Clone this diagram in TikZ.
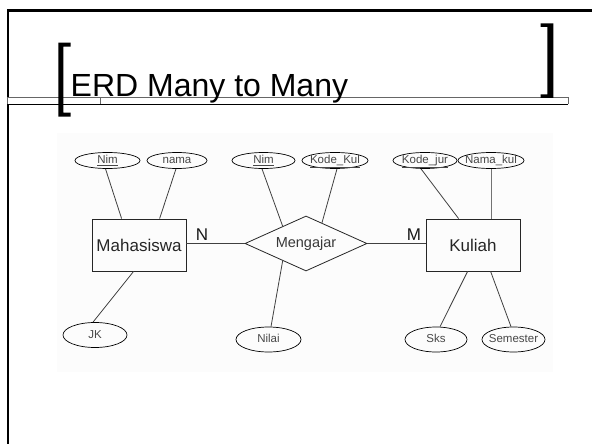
\documentclass[tikz,border=0pt]{standalone}
\usepackage{fontspec}
\setmainfont{Liberation Sans}
\usetikzlibrary{shapes.geometric,calc}
% text of an attribute: zero width so the ellipse keeps its set size
\newcommand{\attrtext}[1]{\makebox[0pt]{#1}}

\begin{document}
\begin{tikzpicture}[x=1pt,y=-1pt,
  entity/.style={draw=black!85,line width=0.8pt,rectangle,minimum width=94pt,
    minimum height=52pt,inner sep=0pt,font=\fontsize{17}{17}\selectfont,text=black!85},
  rel/.style={draw=black!85,line width=0.8pt,diamond,minimum width=122pt,
    minimum height=55pt,inner sep=0pt,aspect=2.2,
    font=\fontsize{14.5}{14.5}\selectfont,text=black!78},
  attr/.style={draw=black,line width=0.7pt,ellipse,inner sep=0pt,minimum height=16pt,
    text height=8pt,text depth=2pt,font=\fontsize{11.5}{11.5}\selectfont,text=black!72},
  attrlow/.style={attr,minimum height=25pt},
  link/.style={draw=black!75,line width=0.8pt},
  card/.style={font=\fontsize{17}{17}\selectfont,inner sep=0pt,anchor=base,text=black!90},
  bracket/.style={fill=black,draw=none},
]
\useasboundingbox (0,0) rectangle (592,444);

% slide frame: left and top edges
\draw[line width=2.6pt] (8,444) -- (8,10.7) -- (592,10.7);

% faint backdrop of the pasted diagram
\fill[black!1.2] (57,133) rectangle (553,372);

% title bar with its divider
\fill[white] (7,97.3) rectangle (568,104);
\draw[black!60,line width=0.8pt] (7,104) -- (7,97.3) -- (568,97.3) -- (568,104);
\draw[black,line width=0.8pt] (7,104) -- (568,104);
\draw[black!60,line width=0.8pt] (100,97.3) -- (100,104);

% title brackets
\fill[bracket] (58.3,42.7) -- (70.7,42.7) -- (70.7,46.7) -- (63.3,46.7) -- (63.3,112.7)
  -- (70.7,112.7) -- (70.7,116.7) -- (58.3,116.7) -- cycle;
\fill[bracket] (540.7,23.3) -- (553.3,23.3) -- (553.3,98) -- (540.7,98) -- (540.7,94.3)
  -- (547.3,94.3) -- (547.3,27) -- (540.7,27) -- cycle;

% title
\node[anchor=base west,inner sep=0pt,font=\fontsize{32}{32}\selectfont] (title)
  at (70.5,96) {ERD Many to Many};

% entities and relationship
\node[entity] (mhs) at (139,245) {Mahasiswa};
\node[rel]    (ajar) at (306,243.5) {Mengajar};
\node[entity] (kul) at (473,245) {Kuliah};

% attributes
\node[attr,minimum width=65pt] (a1) at (107.5,160.5) {\attrtext{\underline{Nim}}};
\node[attr,minimum width=60pt] (a2) at (177,160.5) {\attrtext{nama}};
\node[attr,minimum width=63pt] (a3) at (263.5,160.5) {\attrtext{\underline{Nim}}};
\node[attr,minimum width=66pt] (a4) at (335,160.5) {\attrtext{\underline{Kode\_Kul}}};
\node[attr,minimum width=64pt] (a5) at (425,160.5) {\attrtext{\underline{Kode\_jur}}};
\node[attr,minimum width=66pt] (a6) at (491,160.5) {\attrtext{Nama\_kul}};
\node[attrlow,minimum width=64pt] (a7) at (95,335) {\attrtext{JK}};
\node[attrlow,minimum width=65pt] (a8) at (268.5,339.5) {\attrtext{Nilai}};
\node[attrlow,minimum width=62pt] (a9) at (436,339.5) {\attrtext{Sks}};
\node[attrlow,minimum width=63pt] (a10) at (513.5,339.5) {\attrtext{Semester}};

% cardinalities
\node[card] (cN) at (202,240) {N};
\node[card] (cM) at (414,240) {M};

% relationship lines
\draw[link] (ajar.west) -- (ajar.west -| mhs.east);
\draw[link] (ajar.east) -- (ajar.east -| kul.west);

% attribute lines
\draw[link] ($(a1.south)+(-2,0)$) -- ($(mhs.north west)+(30,0)$);
\draw[link] ($(a2.south)+(-1,0)$) -- ($(mhs.north west)+(68,0)$);
\draw[link] ($(a3.south)+(-1.5,0)$) -- ($(ajar.west)!0.62!(ajar.north)$);
\draw[link] ($(a4.south)+(2,0)$) -- ($(ajar.north)!0.26!(ajar.east)$);
\draw[link] ($(a5.south)+(-4,0)$) -- ($(kul.north west)+(33,0)$);
\draw[link,draw=black!55] (a6.south) -- (a6.south |- kul.north);
\draw[link] ($(mhs.south west)+(42,0)$) -- ($(a7.north)+(-2,0)$);
\draw[link] ($(ajar.west)!0.62!(ajar.south)$) -- ($(a8.north)+(2.5,0)$);
\draw[link] ($(kul.south west)+(42,0)$) -- ($(a9.north)+(4,0)$);
\draw[link] ($(kul.south west)+(65,0)$) -- ($(a10.north)+(-2.5,0)$);
\end{tikzpicture}
\end{document}
